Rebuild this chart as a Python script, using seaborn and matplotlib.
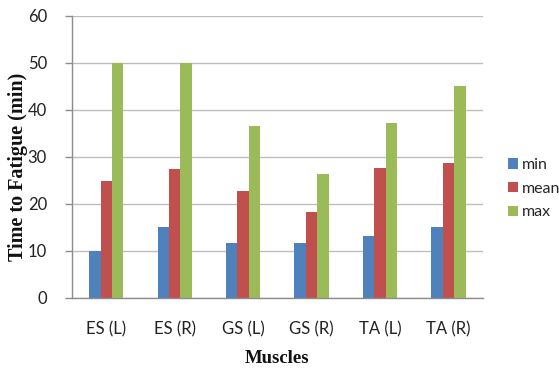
import matplotlib
matplotlib.use("Agg")
import matplotlib.pyplot as plt
import seaborn as sns
import pandas as pd
from matplotlib.patches import Patch

muscles = ["ES (L)", "ES (R)", "GS (L)", "GS (R)", "TA (L)", "TA (R)"]
min_vals = [10.0, 15.0, 11.7, 11.7, 13.2, 15.0]
mean_vals = [24.8, 27.4, 22.8, 18.4, 27.6, 28.8]
max_vals = [50.0, 50.0, 36.5, 26.4, 37.3, 45.0]
series = ["min", "mean", "max"]
colors = ["#4F81BD", "#C0504D", "#9BBB59"]
y_ticks = [0, 10, 20, 30, 40, 50, 60]

rows = []
for name, vals in zip(series, [min_vals, mean_vals, max_vals]):
    for m, v in zip(muscles, vals):
        rows.append({"Muscles": m, "stat": name, "value": v})
df = pd.DataFrame(rows)

sns.set_theme(style="white")
plt.rcParams["font.family"] = ["Lato", "DejaVu Sans"]

fig = plt.figure(figsize=(5.59, 3.70), dpi=100)
ax = fig.add_axes([0.1288, 0.1946, 0.8635 - 0.1288, 0.9568 - 0.1946])

sns.barplot(data=df, x="Muscles", y="value", hue="stat", hue_order=series,
            palette=colors, width=0.5, saturation=1, ax=ax, legend=False,
            linewidth=0, errorbar=None)

ax.set_xlim(-0.5, len(muscles) - 0.5)
ax.set_ylim(0, 60)
ax.set_yticks(y_ticks)
ax.yaxis.grid(True, color="#BEBEBE", linewidth=1.0)
ax.set_axisbelow(True)
for s in ["top", "right"]:
    ax.spines[s].set_visible(False)
for s in ["left", "bottom"]:
    ax.spines[s].set_color("#8C8C8C")
    ax.spines[s].set_linewidth(1.0)

ax.tick_params(axis="y", which="both", left=True, length=5, width=1,
               color="#8C8C8C", labelsize=12, labelcolor="#222222", pad=13)
ax.tick_params(axis="x", bottom=False, labelsize=12, labelcolor="#222222", pad=11)

ax.set_xlabel("Muscles", fontfamily="Liberation Serif", fontweight="bold",
              fontsize=13.5, color="#111111", labelpad=9)
ax.set_ylabel("Time to Fatigue (min)", fontfamily="Liberation Serif",
              fontweight="bold", fontsize=14.5, color="#111111")
ax.yaxis.label.set_va("center")
ax.yaxis.set_label_coords(-0.131, 0.465)

handles = [Patch(facecolor=c, edgecolor="none") for c in colors]
fig.legend(handles, series, loc="center left", bbox_to_anchor=(0.909, 0.49),
           frameon=False, fontsize=11.5, handlelength=0.6, handleheight=0.6,
           handletextpad=0.25, labelspacing=0.6, borderaxespad=0,
           borderpad=0)

fig.savefig("out.png", dpi=100)
